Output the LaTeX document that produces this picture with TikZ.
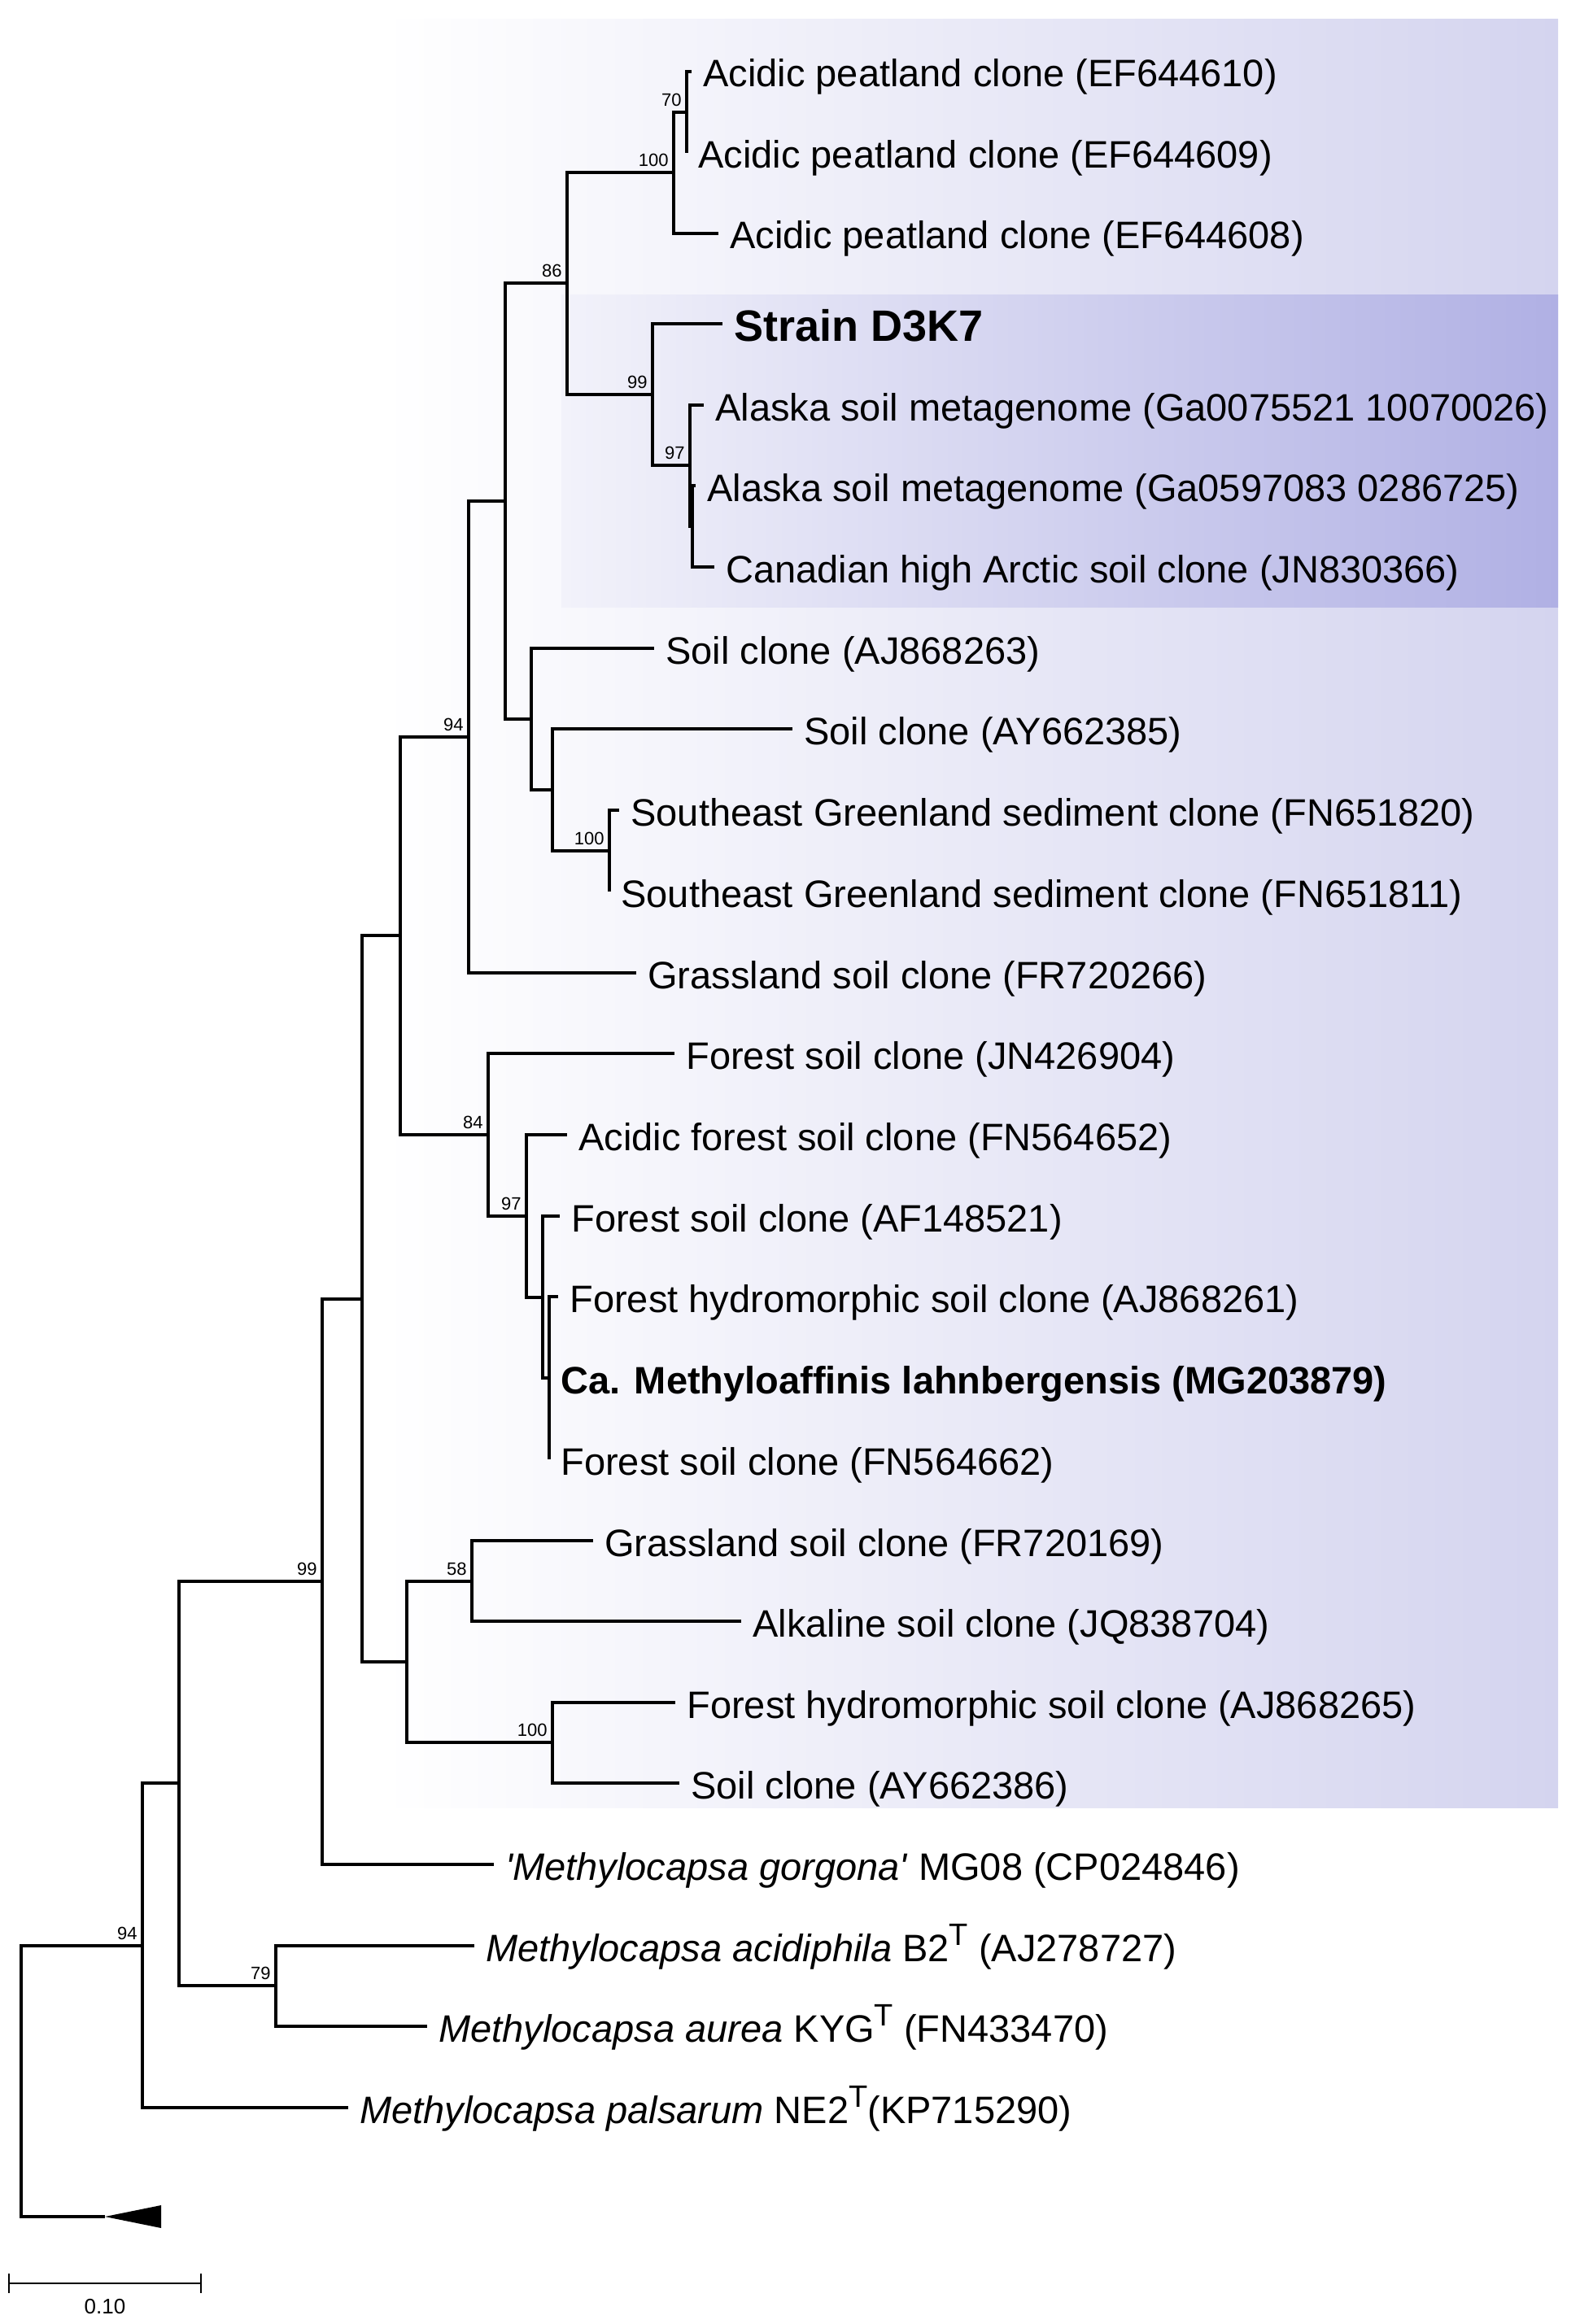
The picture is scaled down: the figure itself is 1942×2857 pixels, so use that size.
\documentclass[tikz,border=0pt]{standalone}
\usepackage{fontspec}
\setmainfont{Liberation Sans}
\usetikzlibrary{positioning}
\definecolor{paleband}{RGB}{212,212,239}
\definecolor{deepband}{RGB}{176,176,228}
\newcommand{\typeT}{\raisebox{0.42em}{\fontsize{19pt}{19pt}\selectfont T}}
\tikzset{
  branch/.style={line width=1.6pt, line join=miter},
  leaf/.style={anchor=west, inner xsep=7pt, inner ysep=0pt, text height=19pt,
    text depth=0pt, font=\fontsize{23.5pt}{28pt}\selectfont},
  leafbold/.style={leaf, font=\fontsize{23.5pt}{28pt}\selectfont\bfseries},
  strainbold/.style={leaf, text height=21pt, font=\fontsize{27pt}{32pt}\selectfont\bfseries},
  bootval/.style={anchor=south east, inner sep=0pt, font=\fontsize{11pt}{13pt}\selectfont},
  scalebar/.style={line width=1.1pt},
}
\begin{document}
\begin{tikzpicture}[x=0.5pt,y=-0.5pt]
\useasboundingbox (0,0) rectangle (1942,2857);
% clade shading
\shade[left color=white, right color=paleband] (470,24) rectangle (1915,2222);
\shade[left color=paleband!30, right color=deepband] (690,363) rectangle (1915,746);
% internal nodes
\coordinate (n70) at (844,138);
\coordinate (n100a) at (828,212);
\coordinate (n97in) at (851,647);
\coordinate (n97) at (848,572);
\coordinate (n99a) at (802,485);
\coordinate (n86) at (697,348);
\coordinate (n100b) at (749,1046);
\coordinate (nay) at (679,971);
\coordinate (nsoil) at (653,884);
\coordinate (nupper) at (621,616);
\coordinate (n94a) at (576,906);
\coordinate (nfor3) at (675,1694);
\coordinate (nfor2) at (667,1595);
\coordinate (n97b) at (647,1495);
\coordinate (n84) at (600,1395);
\coordinate (nmid) at (492,1150);
\coordinate (n58) at (580,1944);
\coordinate (n100c) at (679,2142);
\coordinate (nlow) at (500,2043);
\coordinate (ningroup) at (445,1597);
\coordinate (n99b) at (396,1944);
\coordinate (n79) at (339,2441);
\coordinate (nmeth) at (220,2192);
\coordinate (n94b) at (175,2392);
\coordinate (root) at (26,2558);
\coordinate (outg) at (129,2725);
% leaves
\node[leaf] (l1) at (850,88) {Acidic peatland clone (EF644610)};
\node[leaf] (l2) at (844,188) {Acidic peatland clone (EF644609)};
\node[leaf] (l3) at (883,287) {Acidic peatland clone (EF644608)};
\node[strainbold] (l4) at (888,398) {Strain D3K7};
\node[leaf] (l5) at (865,498) {Alaska soil metagenome (Ga0075521 10070026)};
\node[leaf] (l6) at (855,597) {Alaska soil metagenome (Ga0597083 0286725)};
\node[leaf] (l7) at (878,697) {Canadian high Arctic soil clone (JN830366)};
\node[leaf] (l8) at (804,797) {Soil clone (AJ868263)};
\node[leaf] (l9) at (974,896) {Soil clone (AY662385)};
\node[leaf] (l10) at (761,996) {Southeast Greenland sediment clone (FN651820)};
\node[leaf] (l11) at (749,1096) {Southeast Greenland sediment clone (FN651811)};
\node[leaf] (l12) at (782,1196) {Grassland soil clone (FR720266)};
\node[leaf] (l13) at (829,1295) {Forest soil clone (JN426904)};
\node[leaf] (l14) at (697,1395) {Acidic forest soil clone (FN564652)};
\node[leaf] (l15) at (688,1495) {Forest soil clone (AF148521)};
\node[leaf] (l16) at (686,1594) {Forest hydromorphic soil clone (AJ868261)};
\node[leafbold] (l17) at (675,1694) {Ca. Methyloaffinis lahnbergensis (MG203879)};
\node[leaf] (l18) at (675,1794) {Forest soil clone (FN564662)};
\node[leaf] (l19) at (729,1894) {Grassland soil clone (FR720169)};
\node[leaf] (l20) at (911,1993) {Alkaline soil clone (JQ838704)};
\node[leaf] (l21) at (830,2093) {Forest hydromorphic soil clone (AJ868265)};
\node[leaf] (l22) at (835,2192) {Soil clone (AY662386)};
\node[leaf] (l23) at (607,2292) {\textit{\textquotesingle Methylocapsa gorgona\textquotesingle} MG08 (CP024846)};
\node[leaf] (l24) at (583,2392) {\textit{Methylocapsa acidiphila} B2\typeT{} (AJ278727)};
\node[leaf] (l25) at (525,2491) {\textit{Methylocapsa aurea} KYG\typeT{} (FN433470)};
\node[leaf] (l26) at (428,2591) {\textit{Methylocapsa palsarum} NE2\typeT(KP715290)};
% branches
\draw[branch] (n70) |- (l1.west) (n70) |- (l2.west);
\draw[branch] (n100a) |- (n70) (n100a) |- (l3.west);
\draw[branch] (n86) |- (n100a) (n86) |- (n99a);
\draw[branch] (n99a) |- (l4.west) (n99a) |- (n97);
\draw[branch] (n97) |- (l5.west) (n97) |- (n97in);
\draw[branch] (n97in) |- (l6.west) (n97in) |- (l7.west);
\draw[branch] (nupper) |- (n86) (nupper) |- (nsoil);
\draw[branch] (nsoil) |- (l8.west) (nsoil) |- (nay);
\draw[branch] (nay) |- (l9.west) (nay) |- (n100b);
\draw[branch] (n100b) |- (l10.west) (n100b) |- (l11.west);
\draw[branch] (n94a) |- (nupper) (n94a) |- (l12.west);
\draw[branch] (nmid) |- (n94a) (nmid) |- (n84);
\draw[branch] (n84) |- (l13.west) (n84) |- (n97b);
\draw[branch] (n97b) |- (l14.west) (n97b) |- (nfor2);
\draw[branch] (nfor2) |- (l15.west) (nfor2) |- (nfor3);
\draw[branch] (nfor3) |- (l16.west) (nfor3) |- (l17.west) (nfor3) |- (l18.west);
\draw[branch] (ningroup) |- (nmid) (ningroup) |- (nlow);
\draw[branch] (nlow) |- (n58) (nlow) |- (n100c);
\draw[branch] (n58) |- (l19.west) (n58) |- (l20.west);
\draw[branch] (n100c) |- (l21.west) (n100c) |- (l22.west);
\draw[branch] (n99b) |- (ningroup) (n99b) |- (l23.west);
\draw[branch] (nmeth) |- (n99b) (nmeth) |- (n79);
\draw[branch] (n79) |- (l24.west) (n79) |- (l25.west);
\draw[branch] (n94b) |- (nmeth) (n94b) |- (l26.west);
\draw[branch] (root) |- (n94b) (root) |- (outg);
% collapsed outgroup
\fill (outg) -- (198,2711) -- (198,2739) -- cycle;
% bootstrap values
\node[bootval] (b70) at ([xshift=-3pt,yshift=3.5pt]n70) {70};
\node[bootval] (b100a) at ([xshift=-3pt,yshift=3.5pt]n100a) {100};
\node[bootval] (b86) at ([xshift=-3pt,yshift=3.5pt]n86) {86};
\node[bootval] (b99a) at ([xshift=-3pt,yshift=3.5pt]n99a) {99};
\node[bootval] (b97a) at ([xshift=-3pt,yshift=3.5pt]n97) {97};
\node[bootval] (b94a) at ([xshift=-3pt,yshift=3.5pt]n94a) {94};
\node[bootval] (b100b) at ([xshift=-3pt,yshift=3.5pt]n100b) {100};
\node[bootval] (b84) at ([xshift=-3pt,yshift=3.5pt]n84) {84};
\node[bootval] (b97b) at ([xshift=-3pt,yshift=3.5pt]n97b) {97};
\node[bootval] (b58) at ([xshift=-3pt,yshift=3.5pt]n58) {58};
\node[bootval] (b100c) at ([xshift=-3pt,yshift=3.5pt]n100c) {100};
\node[bootval] (b99b) at ([xshift=-3pt,yshift=3.5pt]n99b) {99};
\node[bootval] (b79) at ([xshift=-3pt,yshift=3.5pt]n79) {79};
\node[bootval] (b94b) at ([xshift=-3pt,yshift=3.5pt]n94b) {94};
% scale bar
\coordinate (sbl) at (11,2807);
\coordinate (sbr) at (247,2807);
\draw[scalebar] (sbl) -- (sbr);
\draw[scalebar] ([yshift=6pt]sbl) -- ([yshift=-6pt]sbl);
\draw[scalebar] ([yshift=6pt]sbr) -- ([yshift=-6pt]sbr);
\node[font=\fontsize{13pt}{15pt}\selectfont, inner sep=0pt] (sbtext) at (129,2836) {0.10};
\end{tikzpicture}
\end{document}
